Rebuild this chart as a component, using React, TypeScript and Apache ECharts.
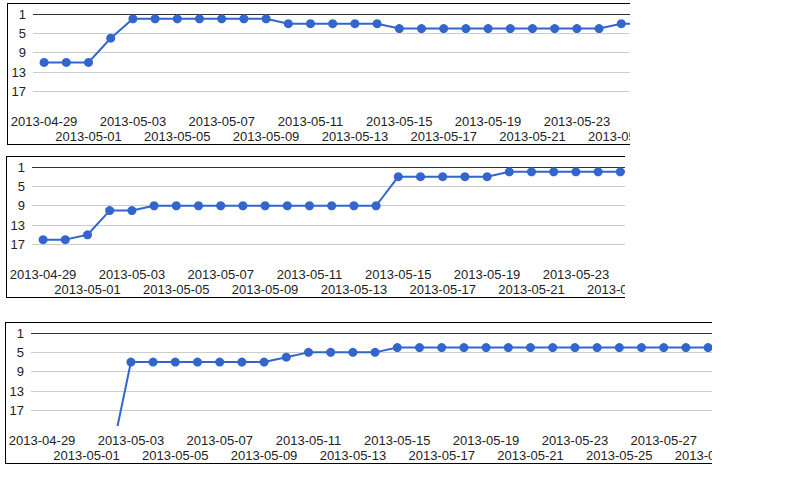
import React, { useEffect, useRef } from "react";
import * as echarts from "echarts";

const dates = [
  "2013-04-29", "2013-04-30", "2013-05-01", "2013-05-02", "2013-05-03", "2013-05-04",
  "2013-05-05", "2013-05-06", "2013-05-07", "2013-05-08", "2013-05-09", "2013-05-10",
  "2013-05-11", "2013-05-12", "2013-05-13", "2013-05-14", "2013-05-15", "2013-05-16",
  "2013-05-17", "2013-05-18", "2013-05-19", "2013-05-20", "2013-05-21", "2013-05-22",
  "2013-05-23", "2013-05-24", "2013-05-25", "2013-05-26", "2013-05-27", "2013-05-28",
  "2013-05-29",
];

const rankTop = [
  11, 11, 11, 6, 2, 2, 2, 2, 2, 2, 2, 3, 3, 3, 3, 3, 4, 4, 4, 4, 4, 4, 4, 4, 4, 4, 3, 3,
  null, null, null,
];

const rankMiddle = [
  16, 16, 15, 10, 10, 9, 9, 9, 9, 9, 9, 9, 9, 9, 9, 9, 3, 3, 3, 3, 3, 2, 2, 2, 2, 2, 2, 2,
  null, null, null,
];

const rankBottom = [
  null, null, null, 29, 7, 7, 7, 7, 7, 7, 7, 6, 5, 5, 5, 5, 4, 4, 4, 4, 4, 4, 4, 4, 4, 4,
  4, 4, 4, 4, 4,
];

const yMin = 1;
const yMax = 20;
const yStep = 4;

const FONT = 'Arial, "Liberation Sans", sans-serif';
const BAND = 22.2;
const GRID_LEFT = 25;
const HALF_LABEL = 33;

function dateAxis(row: number, visibleWidth: number) {
  return {
    type: "category",
    data: dates,
    boundaryGap: true,
    position: "bottom",
    gridIndex: 0,
    axisLine: { show: false },
    axisTick: { show: false },
    splitLine: { show: false },
    axisPointer: { show: false },
    axisLabel: {
      interval: (i: number) =>
        i % 4 === row * 2 && GRID_LEFT + (i + 0.5) * BAND - HALF_LABEL < visibleWidth,
      margin: 8 + row * 15,
      color: "#222",
      fontSize: 13,
      fontFamily: FONT,
      lineHeight: 15,
      hideOverlap: false,
    },
  };
}

function RankChart(props: { values: (number | null)[]; left: number; top: number; width: number }) {
  const ref = useRef<HTMLDivElement | null>(null);
  useEffect(() => {
    if (!ref.current) return;
    const chart = echarts.init(ref.current, null, { renderer: "svg" });
    chart.setOption({
      animation: false,
      grid: {
        left: GRID_LEFT,
        top: 10,
        width: dates.length * BAND,
        height: 92,
        containLabel: false,
        outerBoundsMode: "none",
      },
      xAxis: [dateAxis(0, props.width - 1), dateAxis(1, props.width - 1)],
      yAxis: {
        type: "value",
        inverse: true,
        min: yMin,
        max: yMax,
        interval: yStep,
        axisLine: { show: false },
        axisTick: { show: false },
        axisLabel: {
          margin: 7,
          color: "#222",
          fontSize: 13,
          fontFamily: FONT,
          showMaxLabel: false,
        },
        splitLine: {
          show: true,
          showMaxLine: false,
          lineStyle: {
            width: 1,
            color: ["#333", "#ccc", "#ccc", "#ccc", "#ccc", "rgba(0,0,0,0)"],
          },
        },
      },
      series: [
        {
          type: "line",
          xAxisIndex: 0,
          data: props.values,
          color: "#3366CC",
          lineStyle: { width: 2, color: "#3366CC" },
          itemStyle: { color: "#3366CC" },
          symbol: "circle",
          symbolSize: 9,
          showSymbol: true,
          showAllSymbol: true,
          connectNulls: false,
          clip: true,
          emphasis: { disabled: true },
        },
      ],
    });
    return () => chart.dispose();
  }, []);
  return (
    <div
      style={{
        position: "absolute",
        left: props.left,
        top: props.top,
        width: props.width,
        height: 142,
        overflow: "hidden",
      }}
    >
      <div style={{ width: 740, height: 140, border: "1px solid #000" }}>
        <div ref={ref} style={{ width: 740, height: 140 }} />
      </div>
    </div>
  );
}

export default function App() {
  return (
    <div>
      <RankChart values={rankTop} left={7} top={3} width={623} />
      <RankChart values={rankMiddle} left={6} top={156} width={619} />
      <RankChart values={rankBottom} left={5} top={322} width={707} />
    </div>
  );
}
